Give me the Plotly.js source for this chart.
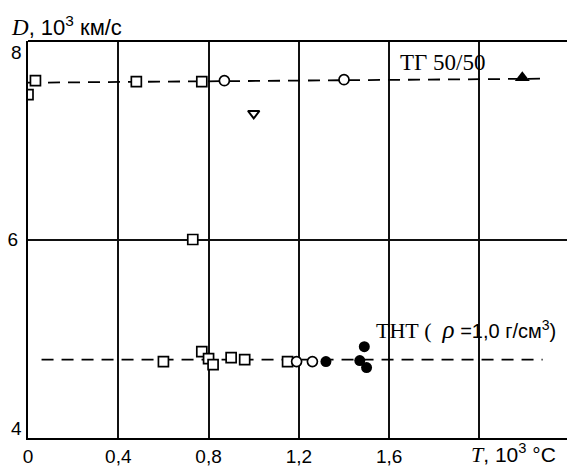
<!DOCTYPE html>
<html><head><meta charset="utf-8">
<script src="https://cdn.plot.ly/plotly-3.0.1.min.js"></script>
<style>body{margin:0;padding:0;background:#fff}#c{width:568px;height:466px}</style>
</head><body><div id="c"></div>
<script>
// TG 50/50 (upper) series
const tgSqX = [0.0, 0.033, 0.48, 0.77, 0.73];
const tgSqY = [7.46, 7.60, 7.59, 7.59, 6.0];
const tgCircX = [0.87, 1.40];
const tgCircY = [7.60, 7.61];
const tgTriDownX = [1.0];
const tgTriDownY = [7.27];
const tgTriUpX = [2.19];
const tgTriUpY = [7.63];
const tgLineX = [0.0, 2.27];
const tgLineY = [7.58, 7.62];
// TNT (lower) series
const tntSqX = [0.60, 0.77, 0.80, 0.82, 0.90, 0.96, 1.15];
const tntSqY = [4.77, 4.87, 4.80, 4.74, 4.81, 4.79, 4.77];
const tntCircX = [1.19, 1.26];
const tntCircY = [4.77, 4.77];
const tntDotX = [1.32, 1.47, 1.49, 1.50];
const tntDotY = [4.77, 4.78, 4.92, 4.71];
const tntLineX = [0.06, 2.28];
const tntLineY = [4.79, 4.79];
// ticks
const xTicks = [0, 0.4, 0.8, 1.2, 1.6, 2.0];
const xTickText = ["0", "0,4", "0,8", "1,2", "1,6", ""];
const yTicks = [4, 6, 8];
const yTickText = ["", "6", ""];
const yEndLabels = ["4", "8"];

const dashLine = {color:'#000', width:1.8, dash:'12px,8px'};
const sq = {symbol:'square', size:10, color:'#fff', line:{width:1.7, color:'#000'}};
const circ = {symbol:'circle', size:10, color:'#fff', line:{width:1.7, color:'#000'}};
const dot = {symbol:'circle', size:11, color:'#000', line:{width:0}};
const traces = [
  {x:tgLineX, y:tgLineY, mode:'lines', line:dashLine},
  {x:tntLineX, y:tntLineY, mode:'lines', line:dashLine},
  {x:tgSqX, y:tgSqY, mode:'markers', marker:sq},
  {x:tgCircX, y:tgCircY, mode:'markers', marker:circ},
  {x:tgTriDownX, y:tgTriDownY, mode:'markers', marker:{symbol:'triangle-down', size:10, color:'#fff', line:{width:1.9, color:'#000'}}},
  {x:tgTriUpX, y:tgTriUpY, mode:'markers', marker:{symbol:'triangle-up', size:13, color:'#000', line:{width:0}}},
  {x:tntSqX, y:tntSqY, mode:'markers', marker:sq},
  {x:tntCircX, y:tntCircY, mode:'markers', marker:circ},
  {x:tntDotX, y:tntDotY, mode:'markers', marker:dot}
];
const sans = 'Liberation Sans, Arial, sans-serif';
const serif = 'Liberation Serif, DejaVu Serif, serif';
const layout = {
  width:568, height:466,
  margin:{l:28, r:1, t:41, b:28},
  paper_bgcolor:'#fff', plot_bgcolor:'#fff',
  showlegend:false,
  font:{family:sans, size:19, color:'#000'},
  xaxis:{range:[0, 2.388], tickvals:xTicks, ticktext:xTickText, showgrid:true, gridcolor:'#111', gridwidth:1.5,
         zeroline:false, showline:true, linecolor:'#000', linewidth:2, ticks:'', ticklen:0, fixedrange:true,
         tickfont:{family:sans, size:19}},
  yaxis:{range:[4, 8], tickvals:yTicks, ticktext:yTickText, showgrid:true, gridcolor:'#111', gridwidth:1.5,
         zeroline:false, showline:true, linecolor:'#000', linewidth:2, ticks:'', ticklen:0, fixedrange:true,
         ticklabelstandoff:4, tickfont:{family:sans, size:19}},
  shapes:[{type:'line', xref:'paper', yref:'paper', x0:0, x1:1, y0:1, y1:1, line:{color:'#000', width:2}}],
  annotations:[
    {xref:'paper', yref:'y', x:0, y:yTicks[0], xanchor:'right', yanchor:'bottom', xshift:-4, yshift:-3, showarrow:false,
     text:yEndLabels[0], font:{family:sans, size:19}},
    {xref:'paper', yref:'y', x:0, y:yTicks[2], xanchor:'right', yanchor:'top', xshift:-4, yshift:1, showarrow:false,
     text:yEndLabels[1], font:{family:sans, size:19}},
    {xref:'paper', yref:'paper', x:-0.035, y:1.0, xanchor:'left', yanchor:'bottom', yshift:-1, showarrow:false,
     text:'<span style="font-family:Liberation Serif,serif;font-style:italic;font-size:23px">D</span>, 10<sup>3</sup> км/с', font:{family:sans, size:22}},
    {xref:'paper', yref:'paper', x:0.983, y:-0.04, xanchor:'right', yanchor:'middle', showarrow:false,
     text:'<span style="font-family:Liberation Serif,serif;font-style:italic;font-size:22px">T</span>, 10<sup>3</sup> °C', font:{family:sans, size:21}},
    {x:1.84, y:7.78, xref:'x', yref:'y', showarrow:false, text:'ТГ 50/50', font:{family:serif, size:23}},
    {x:1.942, y:5.09, xref:'x', yref:'y', showarrow:false,
     text:'<span style="font-family:Liberation Serif,serif;font-size:22px">ТНТ (  </span><span style="font-family:Liberation Serif,serif;font-style:italic;font-size:25px">ρ</span> =1,0 г/см<sup>3</sup>)', font:{family:sans, size:20}}
  ]
};
Plotly.newPlot('c', traces, layout, {displayModeBar:false});
</script></body></html>
